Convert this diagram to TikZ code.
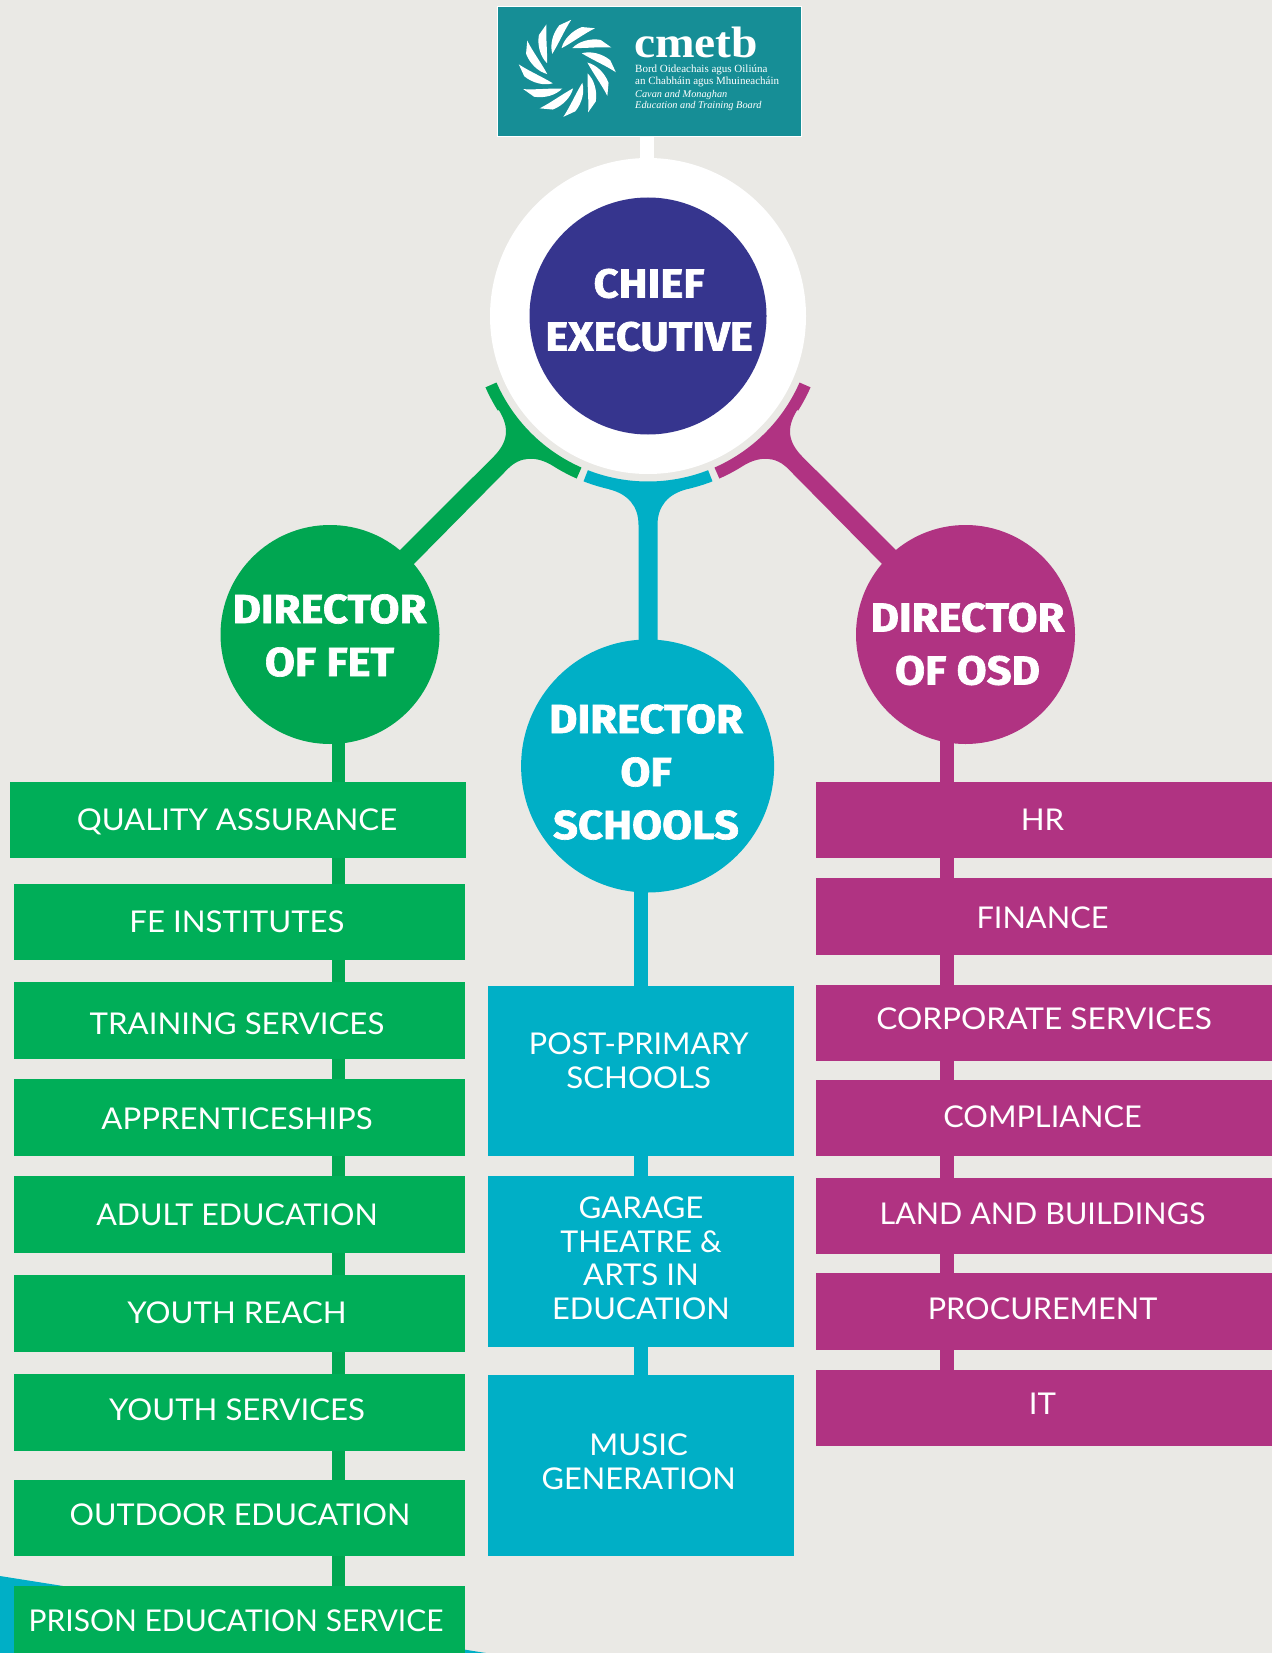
\documentclass[tikz,border=0pt]{standalone}
\usepackage{fontspec}
\usepackage{graphicx}
\usetikzlibrary{backgrounds}
\setmainfont{Lato}[FakeStretch=1.04]
\newfontfamily\headfont{Fira Sans}[BoldFeatures={FakeBold=1.6,FakeStretch=1.075}]
\newfontfamily\logofont{Liberation Serif}
\newfontfamily\logowide{Liberation Serif}[FakeStretch=1.08]
\definecolor{bgc}{HTML}{EAE9E5}
\definecolor{fetc}{HTML}{00A651}
\definecolor{fetbox}{HTML}{00AE58}
\definecolor{schc}{HTML}{00AFC6}
\definecolor{osdc}{HTML}{B03382}
\definecolor{ceoc}{HTML}{36358E}
\definecolor{logoc}{HTML}{168E96}
\tikzset{
  x=1pt,y=-1pt,
  box/.style={draw=none,inner sep=0pt,outer sep=0pt},
  disc/.style={circle,inner sep=0pt,outer sep=0pt,draw=none},
  lab/.style={text=white,inner sep=0pt,align=center,font=\fontsize{30}{33.5}\selectfont},
  labl/.style={lab,anchor=base},
  head/.style={text=white,inner sep=0pt,align=center,font=\headfont\bfseries\fontsize{40.5}{53}\selectfont},
  logotxt/.style={text=white,inner sep=0pt,anchor=west,font=\logofont\fontsize{11}{11}\selectfont},
  logoital/.style={logotxt,font=\logofont\itshape\fontsize{10.3}{11}\selectfont},
  stem/.style={line width=#1,line cap=butt},
}
% a rectangle from (x1,y1) to (x2,y2): name, colour, x1,y1,x2,y2
\newcommand{\mybox}[6]{\node[box,fill=#2,minimum width={(#5-#3)*1pt},minimum height={(#6-#4)*1pt}] (#1) at ({(#3+#5)/2},{(#4+#6)/2}) {};}
\newcommand{\blade}{%
  \fill[white] (-15,-14.5) .. controls (-17.5,-23) and (-15,-34.5) .. (-8,-43) -- (3.9,-48.5)
     .. controls (-3,-38) and (-8,-26) .. cycle;}
\newcommand{\sq}[2]{\scalebox{#1}[1]{#2}}
\begin{document}
\begin{tikzpicture}
\useasboundingbox (0,0) rectangle (1272,1653);
\begin{pgfonlayer}{background}
  \fill[bgc] (0,0) rectangle (1272,1653);
  \fill[schc] (0,1576) -- (486,1653) -- (0,1653) -- cycle;
\end{pgfonlayer}

% logo
\node[box,fill=logoc,draw=white,line width=1.2pt,minimum width=304pt,minimum height=130pt] (logo) at (649.5,71.5) {};
\begin{scope}[shift={(567.3,68.3)}]
  \foreach \a in {0,30,...,330}{\begin{scope}[rotate=\a]\blade\end{scope}}
\end{scope}
\node[text=white,inner sep=0pt,anchor=west,font=\logowide\bfseries\fontsize{44}{44}\selectfont] (lname) at (634,42) {cmetb};
\node[logotxt] (l1) at (635,70) {Bord Oideachais agus Oiliúna};
\node[logotxt] (l2) at (635,81.5) {an Chabháin agus Mhuineacháin};
\node[logoital] (l3) at (635,95) {Cavan and Monaghan};
\node[logoital] (l4) at (635,106) {Education and Training Board};

% circles
\node[disc,fill=white,minimum size=316pt] (ceoring) at (648,316) {};
\node[disc,fill=ceoc,minimum size=237pt] (ceo) at (648,316) {};
\node[head] (ceot) at (649,310) {CHIEF\\EXECUTIVE};
\node[disc,fill=fetc,minimum size=219pt] (fet) at (330,634.5) {};
\node[head] (fett) at (329.5,635.5) {DIRECTOR\\OF FET};
\node[disc,fill=schc,minimum size=253pt] (sch) at (647.6,766) {};
\node[head] (scht) at (646,772) {DIRECTOR\\OF\\SCHOOLS};
\node[disc,fill=osdc,minimum size=219pt] (osd) at (965.5,634.5) {};
\node[head] (osdt) at (967.5,644) {DIRECTOR\\OF OSD};

% FET boxes
\mybox{q}{fetbox}{10}{782}{466}{858}
\mybox{fe}{fetbox}{14}{884}{465}{960}
\mybox{tr}{fetbox}{14}{982}{465}{1059}
\mybox{ap}{fetbox}{14}{1079}{465}{1156}
\mybox{ad}{fetbox}{14}{1176}{465}{1253}
\mybox{yr}{fetbox}{14}{1275}{465}{1352}
\mybox{ys}{fetbox}{14}{1374}{465}{1451}
\mybox{ou}{fetbox}{14}{1480}{465}{1556}
\mybox{pr}{fetbox}{14}{1586}{465}{1653}
\node[labl] (qt) at (237,830) {QUALITY ASSURANCE};
\node[labl] (fet2) at (237,932.3) {FE INSTITUTES};
\node[labl] (trt) at (237,1034) {TRAINING SERVICES};
\node[labl] (apt) at (237,1129) {APPRENTICESHIPS};
\node[labl] (adt) at (237,1225) {\sq{0.978}{ADULT EDUCATION}};
\node[labl] (yrt) at (237,1323) {YOUTH REACH};
\node[labl] (yst) at (237,1420) {YOUTH SERVICES};
\node[labl] (out) at (240,1525) {\sq{0.979}{OUTDOOR EDUCATION}};
\node[labl] (prt) at (236,1631.7) {\sq{0.961}{PRISON EDUCATION SERVICE}};

% Schools boxes
\mybox{pp}{schc}{488}{985.5}{794}{1156}
\mybox{ga}{schc}{488}{1176}{794}{1347}
\mybox{mu}{schc}{488}{1375}{794}{1556}
\node[lab] (ppt) at (638.7,1060.5) {\sq{0.98}{POST-PRIMARY}\\SCHOOLS};
\node[lab] (gat) at (641,1258) {GARAGE\\\sq{0.975}{THEATRE \&}\\ARTS IN\\\sq{0.985}{EDUCATION}};
\node[lab] (mut) at (638.7,1461.5) {MUSIC\\\sq{0.985}{GENERATION}};

% OSD boxes
\mybox{hr}{osdc}{816}{782}{1272}{858}
\mybox{fi}{osdc}{816}{878}{1272}{955}
\mybox{co}{osdc}{816}{985}{1272}{1061}
\mybox{cm}{osdc}{816}{1080}{1272}{1156}
\mybox{la}{osdc}{816}{1178}{1272}{1254}
\mybox{pc}{osdc}{816}{1273}{1272}{1350}
\mybox{it}{osdc}{816}{1369.5}{1272}{1446}
\node[labl] (hrt) at (1042.5,830) {HR};
\node[labl] (fit) at (1042.5,928) {\sq{0.985}{FINANCE}};
\node[labl] (cot) at (1044,1029) {\sq{1.013}{CORPORATE SERVICES}};
\node[labl] (cmt) at (1042.5,1127) {\sq{0.984}{COMPLIANCE}};
\node[labl] (lat) at (1042.5,1224) {\sq{0.978}{LAND AND BUILDINGS}};
\node[labl] (pct) at (1042.5,1319) {\sq{0.982}{PROCUREMENT}};
\node[labl] (itt) at (1042.5,1414) {IT};

\coordinate (fx) at (338.3,0);
\coordinate (sx) at (641,0);
\coordinate (ox) at (946.5,0);
\coordinate (wx) at (647,0);

\begin{pgfonlayer}{background}
  % connectors
  \draw[white,stem=14pt] (logo.center -| wx) -- (ceoring.center -| wx);
  \foreach \a/\b in {fet/q,q/fe,fe/tr,tr/ap,ap/ad,ad/yr,yr/ys,ys/ou,ou/pr}
    \draw[fetc,stem=13.5pt] (\a.center -| fx) -- (\b.center -| fx);
  \foreach \a/\b in {sch/pp,pp/ga,ga/mu}
    \draw[schc,stem=14pt] (\a.center -| sx) -- (\b.center -| sx);
  \foreach \a/\b in {osd/hr,hr/fi,fi/co,co/cm,cm/la,la/pc,pc/it}
    \draw[osdc,stem=14pt] (\a.center -| ox) -- (\b.center -| ox);
  % forked arms under the chief executive
  \foreach \sg/\col in {1/fetc,-1/osdc}{
    \begin{scope}[shift={(648,316)},xscale=\sg]
    \fill[\col] plot[domain=156.3:113.7,samples=40] ({165.5*cos(\x)},{165.5*sin(\x)})
      -- plot[domain=113.7:122.8,samples=10] ({177.5*cos(\x)},{177.5*sin(\x)})
      .. controls (-112,140) and (-128,140) .. (-140.6,153.3)
      -- (-240,254) -- (-254,240) -- (-154.4,140.7)
      .. controls (-140,126) and (-138,112) .. (-149.2,94)
      -- plot[domain=147.8:156.3,samples=10] ({177.5*cos(\x)},{177.5*sin(\x)}) -- cycle;
    \end{scope}}
  \begin{scope}[shift={(648,316)}]
  \fill[schc] plot[domain=111.3:68.7,samples=40] ({165.5*cos(\x)},{165.5*sin(\x)})
    -- plot[domain=68.7:77.3,samples=10] ({177.5*cos(\x)},{177.5*sin(\x)})
    .. controls (20,178) and (9.5,190) .. (9.5,209) -- (9.5,335) -- (-9.5,335) -- (-9.5,209)
    .. controls (-9.5,190) and (-20,178) .. (-39,173.3)
    -- plot[domain=102.7:111.3,samples=10] ({177.5*cos(\x)},{177.5*sin(\x)}) -- cycle;
  \end{scope}
\end{pgfonlayer}
\end{tikzpicture}
\end{document}
